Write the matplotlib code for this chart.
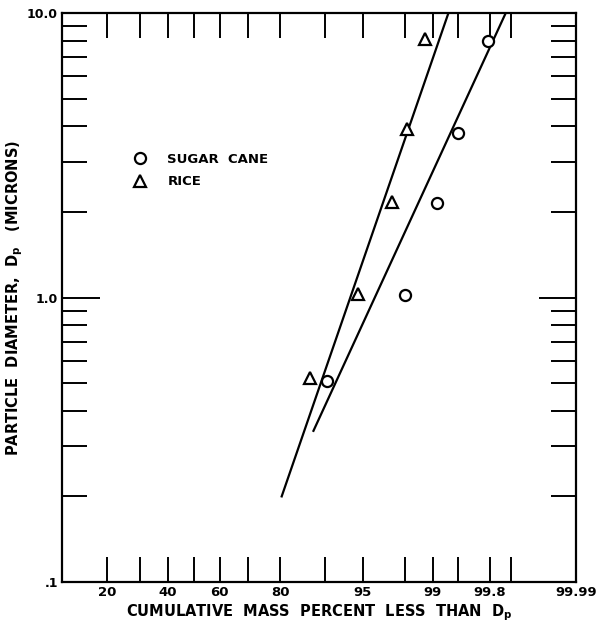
from statistics import NormalDist

import numpy as np
import matplotlib
matplotlib.use("Agg")
import matplotlib.pyplot as plt

plt.rcParams["font.family"] = ["DejaVu Sans"]
plt.rcParams["font.weight"] = "bold"
plt.rcParams["axes.labelweight"] = "bold"
plt.rcParams["mathtext.fontset"] = "custom"
plt.rcParams["mathtext.rm"] = "DejaVu Sans:bold"

# measured points: cumulative mass percent vs particle diameter (microns)
sugar_pct = [90.2, 98.0, 99.1, 99.49, 99.79]
sugar_dp = [0.51, 1.02, 2.15, 3.8, 8.0]
rice_pct = [87.2, 94.5, 97.3, 98.1, 98.77]
rice_dp = [0.52, 1.03, 2.17, 3.9, 8.1]

# fitted log-normal lines (end points)
sugar_fit_pct = [87.8, 99.88]
sugar_fit_dp = [0.34, 10.0]
rice_fit_pct = [80.4, 99.34]
rice_fit_dp = [0.2, 10.0]

x_ticks = [20, 30, 40, 50, 60, 70, 80, 90, 95, 98, 99, 99.5, 99.8, 99.9, 99.99]
x_labels = ["20", "", "40", "", "60", "", "80", "", "95", "", "99", "", "99.8", "", "99.99"]
y_major = [0.1, 1.0, 10.0]
y_labels = [".1", "1.0", "10.0"]
y_minor = [0.2, 0.3, 0.4, 0.5, 0.6, 0.7, 0.8, 0.9, 2, 3, 4, 5, 6, 7, 8, 9]

_nd = NormalDist()
_ppf = np.vectorize(lambda v: _nd.inv_cdf(v / 100.0), otypes=[float])
_cdf = np.vectorize(lambda v: 100.0 * _nd.cdf(v), otypes=[float])


def prob_fwd(p):
    p = np.clip(np.asarray(p, dtype=float), 1e-7, 100 - 1e-7)
    return _ppf(p)


def prob_inv(z):
    return _cdf(np.asarray(z, dtype=float))


fig = plt.figure(figsize=(5.99, 6.28), dpi=100)
ax = fig.add_axes([0.1035, 0.0732, 0.858, 0.906])
ax.set_xscale("function", functions=(prob_fwd, prob_inv))
ax.set_yscale("log")
ax.set_xlim(10, 99.99)
ax.set_ylim(0.1, 10)

ax.plot(rice_fit_pct, rice_fit_dp, color="black", lw=1.6)
ax.plot(sugar_fit_pct, sugar_fit_dp, color="black", lw=1.6)
ax.plot(sugar_pct, sugar_dp, ls="none", marker="o", ms=8, mfc="white",
        mec="black", mew=1.6, label="SUGAR  CANE")
ax.plot(rice_pct, rice_dp, ls="none", marker="^", ms=8.5, mfc="white",
        mec="black", mew=1.6, label="RICE")

ax.set_xticks(x_ticks)
ax.set_xticklabels(x_labels)
ax.xaxis.set_minor_locator(matplotlib.ticker.NullLocator())
ax.set_yticks(y_major)
ax.set_yticklabels(y_labels)
ax.set_yticks(y_minor, minor=True)
ax.yaxis.set_minor_formatter(matplotlib.ticker.NullFormatter())

ax.tick_params(axis="x", which="major", direction="in", length=18, width=1.4,
               top=True, bottom=True, labelsize=9.5, pad=3)
ax.tick_params(axis="y", which="major", direction="in", length=27, width=1.4,
               left=True, right=True, labelsize=9, pad=3)
ax.tick_params(axis="y", which="minor", direction="in", length=18, width=1.4,
               left=True, right=True)
for s in ax.spines.values():
    s.set_linewidth(1.6)

ax.set_xlabel("CUMULATIVE  MASS  PERCENT  LESS  THAN  D$_\\mathrm{p}$",
              fontsize=10.5, labelpad=2)
ax.set_ylabel("PARTICLE  DIAMETER,  D$_\\mathrm{p}$   (MICRONS)",
              fontsize=10.5, labelpad=1)

ax.legend(loc="upper left", bbox_to_anchor=(0.115, 0.775), frameon=False,
          handlelength=1.0, handletextpad=1.6, labelspacing=0.7,
          prop={"size": 9.5, "weight": "bold"})

fig.savefig("out.png", dpi=100)
